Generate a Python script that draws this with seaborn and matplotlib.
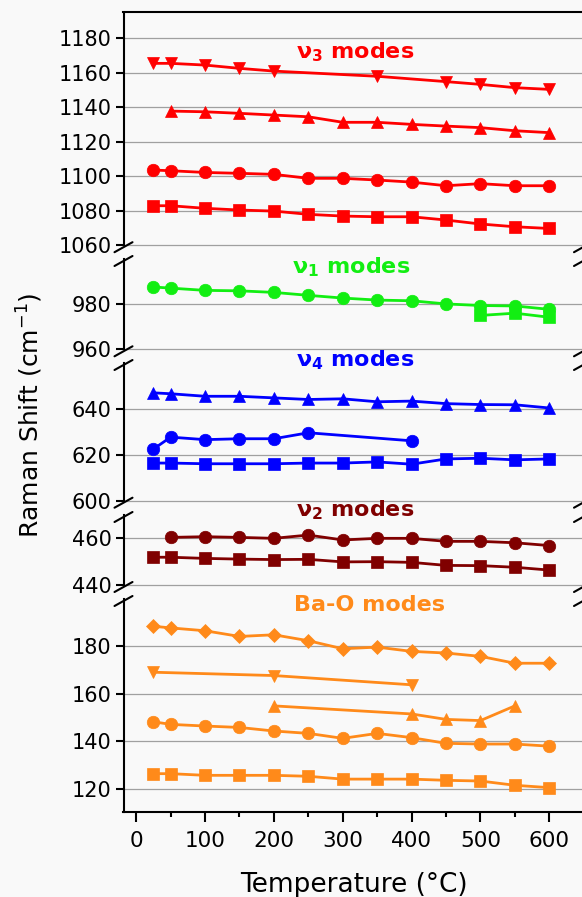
import matplotlib
matplotlib.use("Agg")
import matplotlib.pyplot as plt
import seaborn as sns
from matplotlib.lines import Line2D

# ---------------- data ----------------
T_all = [25, 50, 100, 150, 200, 250, 300, 350, 400, 450, 500, 550, 600]

# nu3 modes
v3_dtri_T = [25, 50, 100, 150, 200, 350, 450, 500, 550, 600]
v3_dtri = [1165.5, 1165.5, 1164.5, 1162.6, 1161.0, 1158.0, 1154.9, 1153.3, 1151.4, 1150.4]
v3_tri_T = [50, 100, 150, 200, 250, 300, 350, 400, 450, 500, 550, 600]
v3_tri = [1137.8, 1137.4, 1136.5, 1135.5, 1134.5, 1131.3, 1131.3, 1130.1, 1129.1, 1128.2, 1126.4, 1125.3]
v3_circ = [1103.6, 1103.2, 1102.2, 1101.7, 1101.1, 1098.8, 1098.8, 1097.8, 1096.6, 1094.5, 1095.7, 1094.5, 1094.5]
v3_sq = [1082.9, 1082.9, 1081.4, 1080.4, 1079.8, 1077.9, 1076.9, 1076.5, 1076.5, 1074.6, 1072.3, 1070.7, 1069.7]

# nu1 modes
v1_circ = [987.6, 987.1, 986.1, 985.9, 985.2, 983.9, 982.7, 981.8, 981.5, 980.1, 979.4, 979.2, 977.7]
v1_sq_T = [500, 550, 600]
v1_sq = [975.0, 976.0, 974.2]

# nu4 modes
v4_tri = [647.0, 646.6, 645.5, 645.5, 644.8, 644.1, 644.4, 643.1, 643.4, 642.3, 641.9, 641.8, 640.4]
v4_circ_T = [25, 50, 100, 150, 200, 250, 400]
v4_circ = [622.5, 627.7, 626.6, 627.0, 627.0, 629.6, 626.1]
v4_sq = [616.4, 616.4, 616.1, 616.1, 616.1, 616.4, 616.4, 616.9, 615.9, 618.2, 618.5, 617.8, 618.2]

# nu2 modes
v2_circ_T = [50, 100, 150, 200, 250, 300, 350, 400, 450, 500, 550, 600]
v2_circ = [460.4, 460.7, 460.4, 460.0, 461.4, 459.3, 460.0, 460.0, 458.7, 458.7, 458.1, 456.9]
v2_sq = [451.9, 451.9, 451.4, 451.1, 450.9, 451.0, 449.9, 450.0, 449.7, 448.4, 448.3, 447.6, 446.4]

# Ba-O modes
bao_dia = [188.5, 187.8, 186.6, 184.2, 184.9, 182.4, 179.0, 179.7, 177.9, 177.2, 175.8, 172.9, 172.9]
bao_dtri_T = [25, 200, 400]
bao_dtri = [169.1, 167.7, 163.8]
bao_tri_T = [200, 400, 450, 500, 550]
bao_tri = [154.9, 151.5, 149.2, 148.7, 154.9]
bao_circ = [148.2, 147.1, 146.4, 145.8, 144.3, 143.3, 141.2, 143.3, 141.5, 139.1, 138.8, 138.8, 137.9]
bao_sq = [126.3, 126.3, 125.6, 125.6, 125.6, 125.2, 124.0, 124.0, 124.0, 123.5, 123.2, 121.4, 120.4]

x_ticks = [0, 100, 200, 300, 400, 500, 600]
x_minor = [50, 150, 250, 350, 450, 550]
panel_yticks = [[1060, 1080, 1100, 1120, 1140, 1160, 1180], [960, 980], [600, 620, 640], [440, 460],
                [120, 140, 160, 180]]
panel_ylims = [(1060, 1195), (960, 1000), (600, 660), (440, 470), (110, 200)]
mode_labels = ["ν$_\\mathregular{3}$ modes", "ν$_\\mathregular{1}$ modes", "ν$_\\mathregular{4}$ modes",
               "ν$_\\mathregular{2}$ modes", "Ba-O modes"]

RED, GREEN, BLUE, WINE, ORANGE = "#ff0000", "#12ee12", "#0000ff", "#800000", "#ff8a1a"

# ---------------- figure ----------------
sns.set_style("white")
plt.rcParams['font.family'] = ['DejaVu Sans']
plt.rcParams['text.color'] = 'black'
plt.rcParams['xtick.color'] = 'black'
plt.rcParams['ytick.color'] = 'black'
plt.rcParams['axes.labelcolor'] = 'black'

W, H = 582, 897
fig = plt.figure(figsize=(W / 100, H / 100), dpi=100)
BG = "#f9f9f9"
fig.patch.set_facecolor(BG)

left_px, right_px = 123.5, 583.0
panels_px = [(12.5, 245.2), (259.0, 349.3), (363.0, 500.7), (515.0, 585.0), (599.0, 812.3)]

series = [
    [(v3_dtri_T, v3_dtri, 'v', 9, RED), (v3_tri_T, v3_tri, '^', 9, RED),
     (T_all, v3_circ, 'o', 9, RED), (T_all, v3_sq, 's', 8, RED)],
    [(T_all, v1_circ, 'o', 9, GREEN), (v1_sq_T, v1_sq, 's', 8, GREEN)],
    [(T_all, v4_tri, '^', 9, BLUE), (v4_circ_T, v4_circ, 'o', 9, BLUE), (T_all, v4_sq, 's', 8, BLUE)],
    [(v2_circ_T, v2_circ, 'o', 9, WINE), (T_all, v2_sq, 's', 8, WINE)],
    [(T_all, bao_dia, 'D', 7, ORANGE), (bao_dtri_T, bao_dtri, 'v', 9, ORANGE),
     (bao_tri_T, bao_tri, '^', 9, ORANGE), (T_all, bao_circ, 'o', 9, ORANGE), (T_all, bao_sq, 's', 8, ORANGE)],
]
label_pos = [(355, 58.3, RED), (351, 273.3, GREEN), (355, 366.7, BLUE), (355, 516.7, WINE), (369, 610.7, ORANGE)]

axes = []
for i, ((top, bot), ylim, yt, ser) in enumerate(zip(panels_px, panel_ylims, panel_yticks, series)):
    ax = fig.add_axes([left_px / W, 1 - bot / H, (right_px - left_px) / W, (bot - top) / H])
    ax.set_facecolor("none")
    for xs, ys, mk, ms, c in ser:
        sns.lineplot(x=xs, y=ys, ax=ax, color=c, marker=mk, markersize=ms, linewidth=2,
                     markeredgecolor=c, markeredgewidth=0.5, clip_on=False, zorder=3)
    ax.set_xlim(-18.5, 649)
    ax.set_ylim(*ylim)
    ax.set_yticks(yt)
    ax.set_yticklabels([str(v) for v in yt])
    ax.yaxis.grid(True, color="#a0a0a0", linewidth=0.9)
    ax.xaxis.grid(False)
    ax.set_axisbelow(True)
    for gl in ax.get_ygridlines():
        gl.set_clip_on(False)
    for s in ["top", "right", "bottom"]:
        ax.spines[s].set_visible(False)
    ax.spines["left"].set_linewidth(1.5)
    ax.spines["left"].set_color("black")
    ax.tick_params(axis="y", which="major", left=True, length=6, width=1.5, pad=2.5,
                   labelsize=15, color="black", labelcolor="black", direction="out")
    ax.set_xlabel("")
    ax.set_ylabel("")
    if i == 0:
        ax.spines["top"].set_visible(True)
        ax.spines["top"].set_linewidth(1.5)
        ax.spines["top"].set_color("black")
    if i == len(panels_px) - 1:
        ax.spines["bottom"].set_visible(True)
        ax.spines["bottom"].set_linewidth(1.5)
        ax.spines["bottom"].set_color("black")
        ax.set_xticks(x_ticks)
        ax.set_xticks(x_minor, minor=True)
        ax.set_xticklabels([str(v) for v in x_ticks])
        ax.tick_params(axis="x", which="major", bottom=True, length=7.2, width=1.5, pad=6,
                       labelsize=15.5, direction="out", color="black", labelcolor="black")
        ax.tick_params(axis="x", which="minor", bottom=True, length=3.6, width=1.5, direction="out",
                       color="black")
    else:
        ax.tick_params(axis="x", which="both", bottom=False, labelbottom=False)
    axes.append(ax)

# break marks
def brk(xp, yp):
    fig.add_artist(Line2D([(xp - 9) / W, (xp + 9) / W], [1 - (yp + 5) / H, 1 - (yp - 5) / H],
                          color="black", lw=1.5, transform=fig.transFigure))

for i in range(len(panels_px) - 1):
    y_up = panels_px[i][1] + 2
    y_lo = panels_px[i + 1][0] + 2
    for xp in (left_px, right_px):
        brk(xp, y_up)
        brk(xp, y_lo)

# mode labels
for (xp, yp, c), txt in zip(label_pos, mode_labels):
    fig.text(xp / W, 1 - yp / H, txt, color=c, fontsize=16, fontweight="bold",
             ha="center", va="baseline")

fig.text(353.5 / W, 1 - 891.5 / H, "Temperature (°C)", fontsize=19, ha="center", va="baseline",
         color="black")
fig.text(30 / W, 1 - 415.5 / H, "Raman Shift (cm$^{\\mathregular{-1}}$)", fontsize=18,
         rotation=90, ha="center", va="center", color="black")

fig.savefig("out.png", dpi=100, facecolor=BG)
